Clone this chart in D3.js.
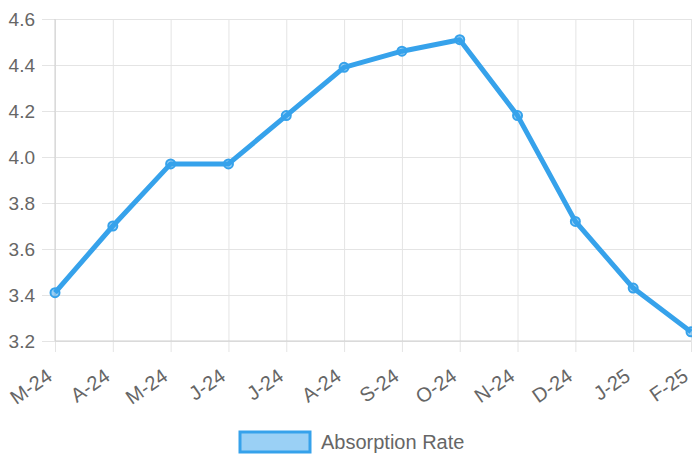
<!DOCTYPE html>
<html>
<head>
<meta charset="utf-8">
<script src="https://cdn.jsdelivr.net/npm/d3@7"></script>
<style>
  body { margin: 0; background: #fff; }
  svg { display: block; font-family: "Liberation Sans", Arial, sans-serif; }
</style>
</head>
<body>
<script>
(function() {

    const width = 692;
    const height = 457;

    // data
    const months = ["M-24", "A-24", "M-24", "J-24", "J-24", "A-24", "S-24", "O-24", "N-24", "D-24", "J-25", "F-25"];
    const absorption = [3.41, 3.70, 3.97, 3.97, 4.18, 4.39, 4.46, 4.51, 4.18, 3.72, 3.43, 3.24];
    const yTicks = [3.2, 3.4, 3.6, 3.8, 4.0, 4.2, 4.4, 4.6];
    const seriesName = "Absorption Rate";

    const margin = {top: 19, right: 1, bottom: 116, left: 55};
    const lineColor = "#36a2eb";

    let svg = d3.select("body").append("svg")
        .attr("width", width)
        .attr("height", height);

    let x = d3.scalePoint()
        .domain(d3.range(months.length))
        .range([margin.left, width - margin.right]);

    let y = d3.scaleLinear()
        .domain([3.2, 4.6])
        .range([height - margin.bottom, margin.top]);

    // horizontal grid + y labels
    let yAxis = svg.append("g")
        .attr("transform", "translate(" + margin.left + ",0)")
        .call(d3.axisLeft(y)
            .tickValues(yTicks)
            .tickFormat(d3.format(".1f"))
            .tickSize(13)
            .tickPadding(7));
    yAxis.select(".domain").remove();
    yAxis.selectAll(".tick line")
        .attr("x2", width - margin.left)
        .attr("x1", -13)
        .attr("stroke", "#e4e4e4");
    yAxis.selectAll(".tick text")
        .attr("fill", "#666")
        .style("font-size", "19px");

    // vertical grid + x labels
    let xAxis = svg.append("g")
        .attr("transform", "translate(0," + (height - margin.bottom) + ")")
        .call(d3.axisBottom(x)
            .tickFormat(i => months[i])
            .tickSize(11));
    xAxis.select(".domain").remove();
    xAxis.selectAll(".tick line")
        .attr("y1", -(height - margin.bottom - margin.top))
        .attr("y2", 11)
        .attr("stroke", "#e4e4e4");
    xAxis.selectAll(".tick text")
        .attr("fill", "#666")
        .style("font-size", "20px")
        .attr("text-anchor", "end")
        .attr("y", 0)
        .attr("dy", "0")
        .attr("transform", "translate(-2,38) rotate(-35)");

    // axis lines
    svg.append("line")
        .attr("x1", margin.left).attr("x2", margin.left)
        .attr("y1", margin.top).attr("y2", height - margin.bottom)
        .attr("stroke", "#cfcfcf");
    svg.append("line")
        .attr("x1", margin.left).attr("x2", width - margin.right)
        .attr("y1", height - margin.bottom).attr("y2", height - margin.bottom)
        .attr("stroke", "#cfcfcf");

    let line = d3.line()
        .x((d, i) => x(i))
        .y(d => y(d));

    svg.append("path")
        .datum(absorption)
        .attr("d", line)
        .attr("fill", "none")
        .attr("stroke", lineColor)
        .attr("stroke-width", 5)
        .attr("stroke-linejoin", "round");

    svg.selectAll("circle.pt")
        .data(absorption)
        .enter()
        .append("circle")
        .attr("class", "pt")
        .attr("cx", (d, i) => x(i))
        .attr("cy", d => y(d))
        .attr("r", 4.5)
        .attr("fill", "rgba(54,162,235,0.5)")
        .attr("stroke", lineColor)
        .attr("stroke-width", 2);

    // legend
    let legend = svg.append("g").attr("transform", "translate(240,432)");
    legend.append("rect")
        .attr("width", 70)
        .attr("height", 20)
        .attr("fill", "rgba(54,162,235,0.5)")
        .attr("stroke", lineColor)
        .attr("stroke-width", 3);
    legend.append("text")
        .attr("x", 81)
        .attr("y", 10)
        .attr("dy", "0.35em")
        .attr("fill", "#666")
        .style("font-size", "20px")
        .text(seriesName);

})();
</script>
</body>
</html>
